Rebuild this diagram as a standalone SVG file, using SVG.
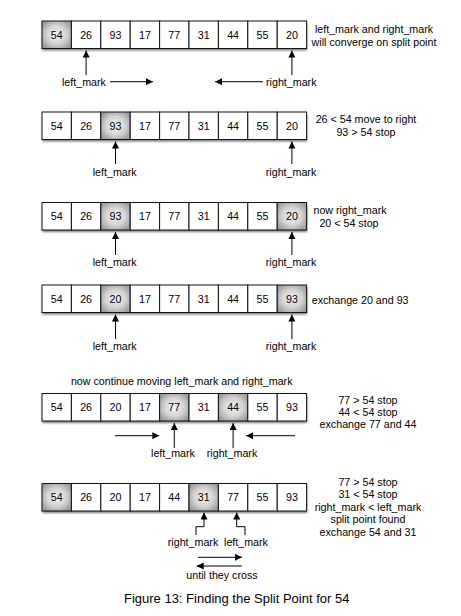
<svg xmlns="http://www.w3.org/2000/svg" width="461" height="616" viewBox="0 0 461 616">
<style>
text{font-family:"Liberation Sans",Arial,sans-serif;font-size:10.7px;fill:#000}
.v{text-anchor:middle}
.c{fill:#fff;stroke:#111;stroke-width:1}
.h{fill:url(#hg);stroke:#111;stroke-width:1}
.sh{fill:#777;filter:url(#bl)}
.ln{fill:none;stroke:#000;stroke-width:1}
.cap{font-size:13px}
</style>
<defs>
<radialGradient id="hg" cx="0.5" cy="0.5" r="0.6">
<stop offset="0" stop-color="#f2f2f2"/>
<stop offset="0.55" stop-color="#d4d4d4"/>
<stop offset="1" stop-color="#9c9c9c"/>
</radialGradient>
<filter id="bl" x="-5%" y="-30%" width="110%" height="160%"><feGaussianBlur stdDeviation="0.9"/></filter>
<marker id="ah" viewBox="0 0 10 10" refX="10" refY="5" markerWidth="7" markerHeight="7" markerUnits="userSpaceOnUse" orient="auto">
<path d="M0,0 L10,5 L0,10 z" fill="#000"/>
</marker>
</defs>
<rect width="461" height="616" fill="#fff"/>

<g id="row1">
<rect class="sh" x="42.5" y="23" width="264.6" height="27.5"/>
<rect class="h" x="42" y="21" width="29.4" height="27.5"/><rect class="c" x="71.4" y="21" width="29.4" height="27.5"/><rect class="c" x="100.8" y="21" width="29.4" height="27.5"/><rect class="c" x="130.2" y="21" width="29.4" height="27.5"/><rect class="c" x="159.6" y="21" width="29.4" height="27.5"/><rect class="c" x="189" y="21" width="29.4" height="27.5"/><rect class="c" x="218.4" y="21" width="29.4" height="27.5"/><rect class="c" x="247.8" y="21" width="29.4" height="27.5"/><rect class="c" x="277.2" y="21" width="29.4" height="27.5"/>
<text class="v" x="56.7" y="38.6">54</text><text class="v" x="86.1" y="38.6">26</text><text class="v" x="115.5" y="38.6">93</text><text class="v" x="144.9" y="38.6">17</text><text class="v" x="174.3" y="38.6">77</text><text class="v" x="203.7" y="38.6">31</text><text class="v" x="233.1" y="38.6">44</text><text class="v" x="262.5" y="38.6">55</text><text class="v" x="291.9" y="38.6">20</text>
</g>
<g id="note1"><text class="v" x="374" y="33">left_mark and right_mark</text><text class="v" x="374" y="45.7">will converge on split point</text></g>
<g id="labels1"><text x="62" y="85.6">left_mark</text><text x="266" y="85.6">right_mark</text></g>

<g id="row2">
<rect class="sh" x="42.5" y="114" width="264.6" height="27.5"/>
<rect class="c" x="42" y="112" width="29.4" height="27.5"/><rect class="c" x="71.4" y="112" width="29.4" height="27.5"/><rect class="h" x="100.8" y="112" width="29.4" height="27.5"/><rect class="c" x="130.2" y="112" width="29.4" height="27.5"/><rect class="c" x="159.6" y="112" width="29.4" height="27.5"/><rect class="c" x="189" y="112" width="29.4" height="27.5"/><rect class="c" x="218.4" y="112" width="29.4" height="27.5"/><rect class="c" x="247.8" y="112" width="29.4" height="27.5"/><rect class="c" x="277.2" y="112" width="29.4" height="27.5"/>
<text class="v" x="56.7" y="129.6">54</text><text class="v" x="86.1" y="129.6">26</text><text class="v" x="115.5" y="129.6">93</text><text class="v" x="144.9" y="129.6">17</text><text class="v" x="174.3" y="129.6">77</text><text class="v" x="203.7" y="129.6">31</text><text class="v" x="233.1" y="129.6">44</text><text class="v" x="262.5" y="129.6">55</text><text class="v" x="291.9" y="129.6">20</text>
</g>
<g id="note2"><text class="v" x="366" y="123">26 &lt; 54 move to right</text><text class="v" x="366" y="135.7">93 &gt; 54 stop</text></g>
<g id="labels2"><text class="v" x="114.7" y="175.6">left_mark</text><text class="v" x="291" y="175.6">right_mark</text></g>

<g id="row3">
<rect class="sh" x="42.5" y="204.5" width="264.6" height="27.5"/>
<rect class="c" x="42" y="202.5" width="29.4" height="27.5"/><rect class="c" x="71.4" y="202.5" width="29.4" height="27.5"/><rect class="h" x="100.8" y="202.5" width="29.4" height="27.5"/><rect class="c" x="130.2" y="202.5" width="29.4" height="27.5"/><rect class="c" x="159.6" y="202.5" width="29.4" height="27.5"/><rect class="c" x="189" y="202.5" width="29.4" height="27.5"/><rect class="c" x="218.4" y="202.5" width="29.4" height="27.5"/><rect class="c" x="247.8" y="202.5" width="29.4" height="27.5"/><rect class="h" x="277.2" y="202.5" width="29.4" height="27.5"/>
<text class="v" x="56.7" y="220.1">54</text><text class="v" x="86.1" y="220.1">26</text><text class="v" x="115.5" y="220.1">93</text><text class="v" x="144.9" y="220.1">17</text><text class="v" x="174.3" y="220.1">77</text><text class="v" x="203.7" y="220.1">31</text><text class="v" x="233.1" y="220.1">44</text><text class="v" x="262.5" y="220.1">55</text><text class="v" x="291.9" y="220.1">20</text>
</g>
<g id="note3"><text class="v" x="350" y="214">now right_mark</text><text class="v" x="349" y="226.5">20 &lt; 54 stop</text></g>
<g id="labels3"><text class="v" x="114.7" y="265.6">left_mark</text><text class="v" x="291" y="265.6">right_mark</text></g>

<g id="row4">
<rect class="sh" x="42.5" y="287" width="264.6" height="27.5"/>
<rect class="c" x="42" y="285" width="29.4" height="27.5"/><rect class="c" x="71.4" y="285" width="29.4" height="27.5"/><rect class="h" x="100.8" y="285" width="29.4" height="27.5"/><rect class="c" x="130.2" y="285" width="29.4" height="27.5"/><rect class="c" x="159.6" y="285" width="29.4" height="27.5"/><rect class="c" x="189" y="285" width="29.4" height="27.5"/><rect class="c" x="218.4" y="285" width="29.4" height="27.5"/><rect class="c" x="247.8" y="285" width="29.4" height="27.5"/><rect class="h" x="277.2" y="285" width="29.4" height="27.5"/>
<text class="v" x="56.7" y="302.6">54</text><text class="v" x="86.1" y="302.6">26</text><text class="v" x="115.5" y="302.6">20</text><text class="v" x="144.9" y="302.6">17</text><text class="v" x="174.3" y="302.6">77</text><text class="v" x="203.7" y="302.6">31</text><text class="v" x="233.1" y="302.6">44</text><text class="v" x="262.5" y="302.6">55</text><text class="v" x="291.9" y="302.6">93</text>
</g>
<g id="note4"><text x="311.7" y="304">exchange 20 and 93</text></g>
<g id="labels4"><text class="v" x="114.7" y="349.6">left_mark</text><text class="v" x="291" y="349.6">right_mark</text></g>

<g id="note5head"><text class="v" x="181.7" y="384.6">now continue moving left_mark and right_mark</text></g>
<g id="row5">
<rect class="sh" x="42.5" y="395.5" width="264.6" height="27.5"/>
<rect class="c" x="42" y="393.5" width="29.4" height="27.5"/><rect class="c" x="71.4" y="393.5" width="29.4" height="27.5"/><rect class="c" x="100.8" y="393.5" width="29.4" height="27.5"/><rect class="c" x="130.2" y="393.5" width="29.4" height="27.5"/><rect class="h" x="159.6" y="393.5" width="29.4" height="27.5"/><rect class="c" x="189" y="393.5" width="29.4" height="27.5"/><rect class="h" x="218.4" y="393.5" width="29.4" height="27.5"/><rect class="c" x="247.8" y="393.5" width="29.4" height="27.5"/><rect class="c" x="277.2" y="393.5" width="29.4" height="27.5"/>
<text class="v" x="56.7" y="411.1">54</text><text class="v" x="86.1" y="411.1">26</text><text class="v" x="115.5" y="411.1">20</text><text class="v" x="144.9" y="411.1">17</text><text class="v" x="174.3" y="411.1">77</text><text class="v" x="203.7" y="411.1">31</text><text class="v" x="233.1" y="411.1">44</text><text class="v" x="262.5" y="411.1">55</text><text class="v" x="291.9" y="411.1">93</text>
</g>
<g id="note5"><text class="v" x="368" y="403.5">77 &gt; 54 stop</text><text class="v" x="368" y="415.9">44 &lt; 54 stop</text><text class="v" x="368" y="428">exchange 77 and 44</text></g>
<g id="labels5"><text class="v" x="173" y="456.6">left_mark</text><text class="v" x="232" y="456.6">right_mark</text></g>

<g id="row6">
<rect class="sh" x="42.5" y="485.5" width="264.6" height="27.5"/>
<rect class="h" x="42" y="483.5" width="29.4" height="27.5"/><rect class="c" x="71.4" y="483.5" width="29.4" height="27.5"/><rect class="c" x="100.8" y="483.5" width="29.4" height="27.5"/><rect class="c" x="130.2" y="483.5" width="29.4" height="27.5"/><rect class="c" x="159.6" y="483.5" width="29.4" height="27.5"/><rect class="h" x="189" y="483.5" width="29.4" height="27.5"/><rect class="c" x="218.4" y="483.5" width="29.4" height="27.5"/><rect class="c" x="247.8" y="483.5" width="29.4" height="27.5"/><rect class="c" x="277.2" y="483.5" width="29.4" height="27.5"/>
<text class="v" x="56.7" y="501.1">54</text><text class="v" x="86.1" y="501.1">26</text><text class="v" x="115.5" y="501.1">20</text><text class="v" x="144.9" y="501.1">17</text><text class="v" x="174.3" y="501.1">44</text><text class="v" x="203.7" y="501.1">31</text><text class="v" x="233.1" y="501.1">77</text><text class="v" x="262.5" y="501.1">55</text><text class="v" x="291.9" y="501.1">93</text>
</g>
<g id="note6"><text class="v" x="368" y="486.4">77 &gt; 54 stop</text><text class="v" x="368" y="498.4">31 &lt; 54 stop</text><text class="v" x="368" y="510.9">right_mark &lt; left_mark</text><text class="v" x="368" y="523.4">split point found</text><text class="v" x="368" y="535.8">exchange 54 and 31</text></g>
<g id="labels6"><text class="v" x="193" y="546.2">right_mark</text><text class="v" x="246" y="546.2">left_mark</text><text class="v" x="222" y="579">until they cross</text></g>

<g id="connectors">
<line class="ln" x1="86.1" y1="75" x2="86.1" y2="50.5" marker-end="url(#ah)"/>
<line class="ln" x1="291.9" y1="75" x2="291.9" y2="50.5" marker-end="url(#ah)"/>
<line class="ln" x1="110" y1="81.7" x2="153" y2="81.7" marker-end="url(#ah)"/>
<line class="ln" x1="263" y1="81.7" x2="215" y2="81.7" marker-end="url(#ah)"/>
<line class="ln" x1="115.5" y1="164" x2="115.5" y2="141.5" marker-end="url(#ah)"/>
<line class="ln" x1="291.9" y1="164" x2="291.9" y2="141.5" marker-end="url(#ah)"/>
<line class="ln" x1="115.5" y1="255" x2="115.5" y2="232" marker-end="url(#ah)"/>
<line class="ln" x1="291.9" y1="255" x2="291.9" y2="232" marker-end="url(#ah)"/>
<line class="ln" x1="115.5" y1="339" x2="115.5" y2="314.5" marker-end="url(#ah)"/>
<line class="ln" x1="291.9" y1="339" x2="291.9" y2="314.5" marker-end="url(#ah)"/>
<line class="ln" x1="174.3" y1="448" x2="174.3" y2="423" marker-end="url(#ah)"/>
<line class="ln" x1="233.1" y1="448" x2="233.1" y2="423" marker-end="url(#ah)"/>
<line class="ln" x1="115" y1="435.7" x2="159.3" y2="435.7" marker-end="url(#ah)"/>
<line class="ln" x1="295" y1="435.7" x2="246" y2="435.7" marker-end="url(#ah)"/>
<polyline class="ln" points="196,535 196,526.7 204,526.7 204,512.5" marker-end="url(#ah)"/>
<polyline class="ln" points="245,535 245,526.7 236.7,526.7 236.7,512.5" marker-end="url(#ah)"/>
<line class="ln" x1="198" y1="557.3" x2="242" y2="557.3" marker-end="url(#ah)"/>
<line class="ln" x1="242" y1="566" x2="196.7" y2="566" marker-end="url(#ah)"/>
</g>

<text class="v cap" x="236.7" y="602.8">Figure 13: Finding the Split Point for 54</text>
</svg>
